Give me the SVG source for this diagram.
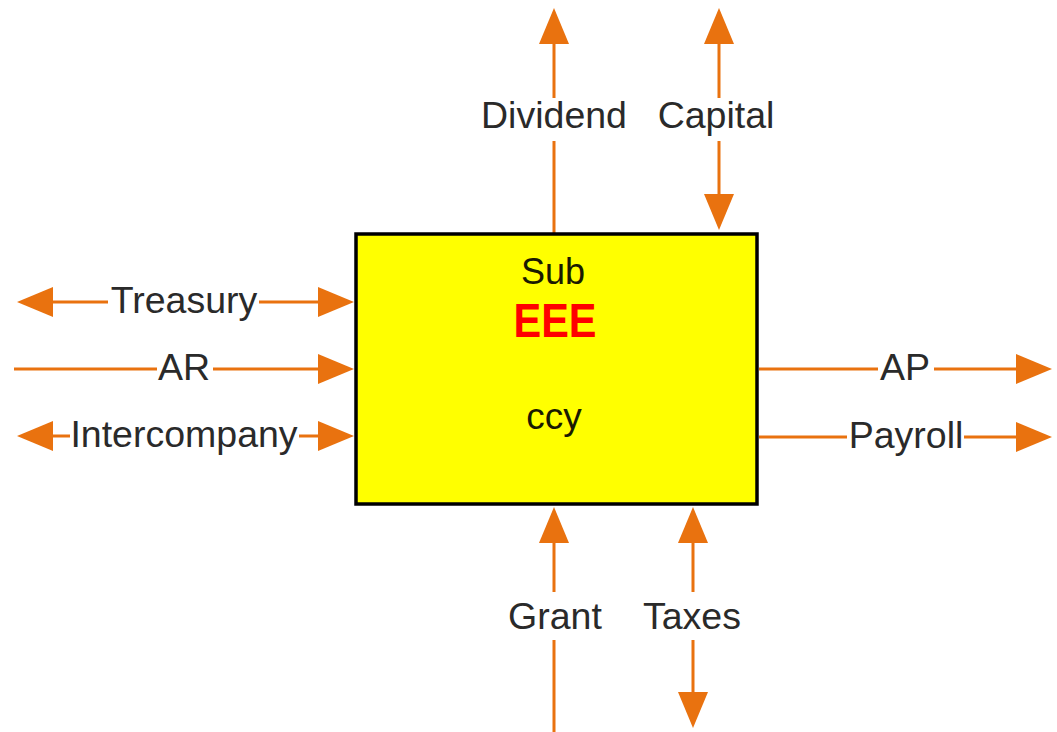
<svg xmlns="http://www.w3.org/2000/svg" width="1057" height="732" viewBox="0 0 1057 732">
<style>
.c{fill:none;stroke:#E9720F;stroke-width:3}
.lbl{font-family:"Liberation Sans",Arial,sans-serif;font-size:37.5px;fill:#2a2a2a;text-anchor:middle}
.box{fill:#FFFF00;stroke:#000;stroke-width:3.5}
.in{font-family:"Liberation Sans",Arial,sans-serif;fill:#1a1a00;text-anchor:middle}
</style>
<defs>
<marker id="ah" viewBox="0 -15 36 30" markerWidth="36" markerHeight="30" refX="0" refY="0" markerUnits="userSpaceOnUse" orient="auto-start-reverse">
<path d="M0,-15 L36,0 L0,15 Z" fill="#E9720F"/>
</marker>
</defs>
<rect width="1057" height="732" fill="#fff"/>
<g id="connectors">
<path id="c-treasury" class="c" d="M53,302 H108 M259,302 H318" marker-start="url(#ah)" marker-end="url(#ah)"/>
<path id="c-ar" class="c" d="M14,369 H157 M213,369 H318" marker-end="url(#ah)"/>
<path id="c-interco" class="c" d="M53,436 H70 M299,436 H318" marker-start="url(#ah)" marker-end="url(#ah)"/>
<path id="c-ap" class="c" d="M759,369 H878 M934,369 H1016" marker-end="url(#ah)"/>
<path id="c-payroll" class="c" d="M759,437 H847 M964,437 H1016" marker-end="url(#ah)"/>
<path id="c-dividend" class="c" d="M554,234 V141 M554,98 V44" marker-end="url(#ah)"/>
<path id="c-capital" class="c" d="M719,44 V98 M719,141 V194" marker-start="url(#ah)" marker-end="url(#ah)"/>
<path id="c-grant" class="c" d="M554,732 V640 M554,592 V543" marker-end="url(#ah)"/>
<path id="c-taxes" class="c" d="M693,543 V592 M693,640 V692" marker-start="url(#ah)" marker-end="url(#ah)"/>
</g>
<g id="labels">
<text class="lbl" x="184" y="313">Treasury</text>
<text class="lbl" x="184" y="380">AR</text>
<text class="lbl" x="184" y="447">Intercompany</text>
<text class="lbl" x="905" y="380">AP</text>
<text class="lbl" x="906" y="448">Payroll</text>
<text class="lbl" x="554" y="128">Dividend</text>
<text class="lbl" x="716" y="128">Capital</text>
<text class="lbl" x="555" y="629">Grant</text>
<text class="lbl" x="692" y="629">Taxes</text>
</g>
<g id="node-sub">
<rect class="box" x="356" y="234" width="401" height="270"/>
<text class="in" x="553" y="284" font-size="36">Sub</text>
<text class="in" x="555" y="337" font-size="48" font-weight="bold" fill="#FF0000" style="fill:#FF0000" textLength="83" lengthAdjust="spacingAndGlyphs">EEE</text>
<text class="in" x="554" y="429" font-size="37">ccy</text>
</g>
</svg>
